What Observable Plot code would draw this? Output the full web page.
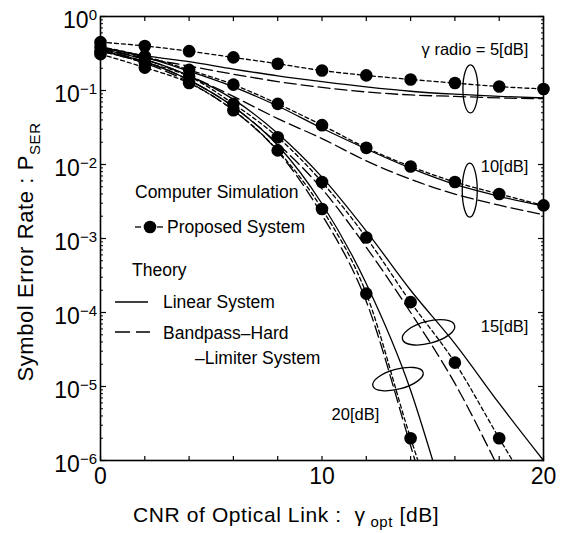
<!DOCTYPE html>
<html><head><meta charset="utf-8">
<script src="https://cdn.jsdelivr.net/npm/d3@7"></script>
<script src="https://cdn.jsdelivr.net/npm/@observablehq/plot@0.6"></script>
<style>
html,body{margin:0;padding:0;background:#fff;}
#chart{width:562px;height:533px;}
</style></head><body><div id="chart"></div>
<script>
// ---------- data ----------
// Computer simulation (proposed system), dots
const simX = [0,2,4,6,8,10,12,14,16,18,20];
const sim5  = [0.45,0.40,0.34,0.28,0.23,0.186,0.160,0.141,0.126,0.113,0.105];
const sim10 = [0.39,0.29,0.19,0.12,0.066,0.034,0.0168,0.0094,0.0058,0.0040,0.0028];
const sim15 = [0.34,0.24,0.155,0.066,0.0234,0.0058,1.03e-3,1.38e-4,2.1e-5,2.0e-6];
const sim20 = [0.31,0.204,0.126,0.054,0.0155,0.0025,1.8e-4,2.0e-6];
// Proposed system curves (short dashes)
const propX5 = [0,2,4,6,8,10,12,14,16,18,20];
const prop5  = [0.45,0.40,0.34,0.28,0.23,0.186,0.160,0.141,0.126,0.113,0.105];
const propX10 = [0,2,4,6,8,10,12,14,16,18,20];
const prop10 = [0.39,0.29,0.19,0.12,0.066,0.034,0.0168,0.0094,0.0058,0.0040,0.0028];
const propX15 = [0,2,4,6,8,10,12,14,16,18,18.6];
const prop15 = [0.34,0.24,0.155,0.066,0.0234,0.0058,1.03e-3,1.38e-4,2.1e-5,2.0e-6,1e-6];
const propX20 = [0,2,4,6,8,10,12,14,14.33];
const prop20 = [0.31,0.204,0.126,0.054,0.0155,0.0025,1.8e-4,2.0e-6,1e-6];
// Theory: linear system (solid)
const linX5 = [0,2,4,6,8,10,12,14,16,18,20];
const lin5  = [0.389,0.295,0.245,0.195,0.158,0.132,0.112,0.0977,0.0891,0.0832,0.0794];
const linX10 = [0,2,4,6,8,10,12,14,16,18,20];
const lin10 = [0.380,0.282,0.182,0.112,0.0617,0.0309,0.0162,0.00891,0.00537,0.00372,0.00275];
const linX15 = [0,2,4,6,8,10,12,14,16,18,20];
const lin15 = [0.363,0.263,0.158,0.0759,0.0263,0.00676,1.26e-3,2.0e-4,3.8e-5,5.9e-6,1.0e-6];
const linX20 = [0,2,4,6,8,10,12,14,15];
const lin20 = [0.347,0.245,0.138,0.0603,0.0182,2.95e-3,2.45e-4,8.9e-6,1.0e-6];
// Theory: bandpass hard-limiter system (long dashes)
const hlX5 = [0,2,4,6,8,10,12,14,16,18,20];
const hl5  = [0.372,0.275,0.214,0.166,0.132,0.110,0.0955,0.0871,0.0832,0.0794,0.0776];
const hlX10 = [0,2,4,6,8,10,12,14,16,18,20];
const hl10 = [0.372,0.263,0.158,0.0832,0.0417,0.0224,0.0112,0.00631,0.00398,0.00282,0.00209];
const hlX15 = [0,2,4,6,8,10,12,14,16,17.8];
const hl15 = [0.355,0.245,0.138,0.0603,0.0191,4.68e-3,7.6e-4,1.0e-4,1.1e-5,1.0e-6];
const hlX20 = [0,2,4,6,8,10,12,14,14.2];
const hl20 = [0.339,0.234,0.129,0.0537,0.0151,2.09e-3,1.41e-4,1.58e-6,1.0e-6];

// ticks
const xTicks = [0,2,4,6,8,10,12,14,16,18,20];
const xTickLabels = [0,10,20];
const yMajor = [1,1e-1,1e-2,1e-3,1e-4,1e-5,1e-6];
const yMinorMult = [2,3,4,5,6,7,8,9];
const yExponents = ["0","\u22121","\u22122","\u22123","\u22124","\u22125","\u22126"];

// annotation labels
const annLabels = ["\u03b3 radio = 5[dB]","10[dB]","15[dB]","20[dB]"];
const annX = [19.32,19.32,19.32,11.51];
const annP = [0.358,9.25e-3,6.4e-5,4.1e-6];
const annAnchor = ["end","end","end","middle"];
// bundle loops
const loopX = [16.7,16.67,14.81,13.43];
const loopP = [0.105,4.5e-3,5.4e-5,1.26e-5];

// ---------- build tables ----------
const tbl = (xs, ys, s) => xs.map((x,i)=>({x, p: ys[i], s}));
const simData = [...tbl(simX,sim5,"5"),...tbl(simX,sim10,"10"),...tbl(simX,sim15,"15"),...tbl(simX,sim20,"20")];
const propData = [...tbl(propX5,prop5,"5"),...tbl(propX10,prop10,"10"),...tbl(propX15,prop15,"15"),...tbl(propX20,prop20,"20")];
const linData = [...tbl(linX5,lin5,"5"),...tbl(linX10,lin10,"10"),...tbl(linX15,lin15,"15"),...tbl(linX20,lin20,"20")];
const hlData = [...tbl(hlX5,hl5,"5"),...tbl(hlX10,hl10,"10"),...tbl(hlX15,hl15,"15"),...tbl(hlX20,hl20,"20")];
const yMinor = [];
yMajor.slice(1).forEach(d => yMinorMult.forEach(m => yMinor.push(d*m)));
const annEnd = annLabels.map((t,i)=>({t, x: annX[i], p: annP[i], a: annAnchor[i]})).filter(d=>d.a==="end");
const annMid = annLabels.map((t,i)=>({t, x: annX[i], p: annP[i], a: annAnchor[i]})).filter(d=>d.a==="middle");

function ellipseSymbol(rx, ry, deg) {
  const a = deg*Math.PI/180, c = Math.cos(a), s = Math.sin(a), k = 0.5523;
  const R = (x,y)=>[x*c - y*s, x*s + y*c];
  return {draw(ctx) {
    const st = R(rx,0); ctx.moveTo(st[0],st[1]);
    const segs = [
      [[rx,k*ry],[k*rx,ry],[0,ry]],
      [[-k*rx,ry],[-rx,k*ry],[-rx,0]],
      [[-rx,-k*ry],[-k*rx,-ry],[0,-ry]],
      [[k*rx,-ry],[rx,-k*ry],[rx,0]]
    ];
    for (const [A,B,E] of segs) {
      const a1=R(...A), b1=R(...B), e1=R(...E);
      ctx.bezierCurveTo(a1[0],a1[1],b1[0],b1[1],e1[0],e1[1]);
    }
    ctx.closePath();
  }};
}
const loopShapes = [ellipseSymbol(7.5,24,0), ellipseSymbol(7.5,27,0), ellipseSymbol(27,11,-15), ellipseSymbol(26,10,-15)];

const FONT = '"Liberation Sans", Arial, Helvetica, sans-serif';
const lw = 1.3;
const plot = Plot.plot({
  width: 562, height: 533,
  marginLeft: 100, marginRight: 19, marginTop: 16, marginBottom: 73,
  style: {fontFamily: FONT, background: "white", color: "black"},
  x: {domain: [0,20], label: null},
  y: {type: "log", domain: [1e-6, 1], label: null},
  marks: [
    Plot.line(linData, {x:"x", y:"p", z:"s", stroke:"black", strokeWidth:lw, curve:"monotone-x"}),
    Plot.line(hlData, {x:"x", y:"p", z:"s", stroke:"black", strokeWidth:lw, strokeDasharray:"12,5", curve:"monotone-x"}),
    Plot.line(propData, {x:"x", y:"p", z:"s", stroke:"black", strokeWidth:lw, strokeDasharray:"4,3", curve:"monotone-x"}),
    Plot.dot(simData, {x:"x", y:"p", r:6.3, fill:"black", stroke:"none"}),
    ...loopX.map((x,i)=>Plot.dot([{x, p: loopP[i]}], {x:"x", y:"p", symbol: loopShapes[i], fill:"none", stroke:"black", strokeWidth:1.3})),
    Plot.text(annEnd, {x:"x", y:"p", text:"t", textAnchor:"end", fontSize:16.5, fill:"black"}),
    Plot.text(annMid, {x:"x", y:"p", text:"t", textAnchor:"middle", fontSize:16.5, fill:"black"}),
    Plot.frame({stroke:"black", strokeWidth:1.6}),
    Plot.axisX({anchor:"bottom", ticks:xTicks, tickSize:-4, fill:"none", label:null, strokeWidth:1.2}),
    Plot.axisX({anchor:"top", ticks:xTicks, tickSize:-4, fill:"none", label:null, strokeWidth:1.2}),
    Plot.axisX({anchor:"bottom", ticks:xTickLabels, tickSize:0, tickPadding:7, fontSize:23, label:null, fill:"black"}),
    Plot.axisY({anchor:"left", ticks:yMajor, tickSize:-6, fill:"none", label:null, strokeWidth:1.2}),
    Plot.axisY({anchor:"right", ticks:yMajor, tickSize:-6, fill:"none", label:null, strokeWidth:1.2}),
    Plot.axisY({anchor:"left", ticks:yMinor, tickSize:-3, fill:"none", label:null, strokeWidth:1}),
    Plot.axisY({anchor:"right", ticks:yMinor, tickSize:-3, fill:"none", label:null, strokeWidth:1})
  ]
});
document.getElementById("chart").appendChild(plot);

// ---------- y tick labels with superscripts ----------
const sc = plot.scale("y");
const yScale = sc.apply ? (v)=>sc.apply(v) : d3.scaleLog(sc.domain, sc.range);
const svg = d3.select(plot);
const gy = svg.append("g").attr("font-size", 23).attr("fill","black").attr("font-family", FONT);
yMajor.forEach((v,i)=>{
  const t = gy.append("text").attr("x", 97).attr("y", yScale(v) + 12).attr("text-anchor","end");
  t.append("tspan").text("10");
  t.append("tspan").attr("font-size", 15).attr("dy", -8).text(yExponents[i]);
});

// ---------- axis titles ----------
const yt = svg.append("text").attr("transform","translate(33,252) rotate(-90)").attr("font-family", FONT)
  .attr("text-anchor","middle").attr("font-size",22).attr("letter-spacing","0.6px").attr("fill","black");
yt.append("tspan").text("Symbol Error Rate : P");
yt.append("tspan").attr("font-size",15).attr("dy",7).text("SER");

const xt = svg.append("text").attr("x",133).attr("y",522).attr("text-anchor","start").attr("font-family", FONT)
  .attr("font-size",21).attr("letter-spacing","0.6px").attr("fill","black");
xt.append("tspan").text("CNR of Optical Link :  \u03b3");
xt.append("tspan").attr("font-size",15).attr("dy",5).text(" opt");
xt.append("tspan").attr("dy",-5).text(" [dB]");

// ---------- legend ----------
const lg = svg.append("g").attr("font-size",17.5).attr("fill","black").attr("text-anchor","start").attr("font-family", FONT);
lg.append("text").attr("x",135).attr("y",198).text("Computer Simulation");
lg.append("line").attr("x1",135).attr("x2",141).attr("y1",227).attr("y2",227).attr("stroke","black").attr("stroke-width",lw);
lg.append("line").attr("x1",157).attr("x2",163).attr("y1",227).attr("y2",227).attr("stroke","black").attr("stroke-width",lw);
lg.append("circle").attr("cx",150).attr("cy",227).attr("r",6.3).attr("fill","black");
lg.append("text").attr("x",167).attr("y",233).text("Proposed System");
lg.append("text").attr("x",132).attr("y",276).text("Theory");
lg.append("line").attr("x1",115).attr("x2",148).attr("y1",302).attr("y2",302).attr("stroke","black").attr("stroke-width",lw);
lg.append("text").attr("x",163).attr("y",308).text("Linear System");
lg.append("line").attr("x1",115).attr("x2",150).attr("y1",332).attr("y2",332).attr("stroke","black").attr("stroke-width",lw).attr("stroke-dasharray","15,6");
lg.append("text").attr("x",163).attr("y",339).text("Bandpass\u2013Hard");
lg.append("text").attr("x",195).attr("y",364).text("\u2013Limiter System");
</script></body></html>
